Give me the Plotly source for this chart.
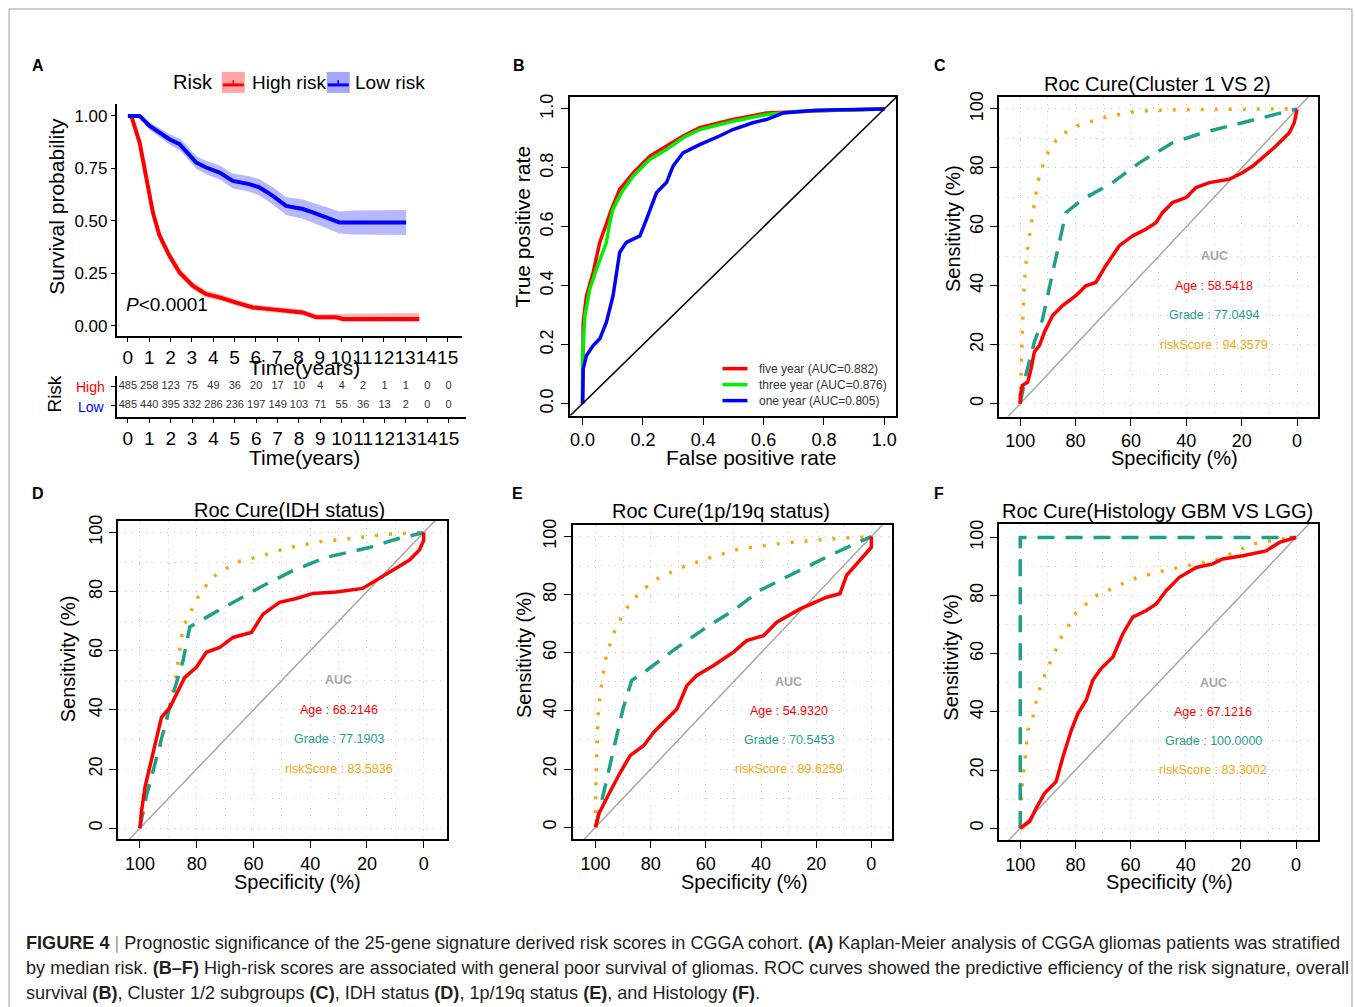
import plotly.graph_objects as go

W, H = 1355, 1007
def px(x): return x / W
def py(y):
    # small vertical compensation measured on the rendered page
    y = (y - 5) / 0.995
    return 1 - y / H

# ---------------- DATA ----------------
# Panel A: Kaplan-Meier
t_high = [0, 0.16, 0.55, 0.86, 1.17, 1.48, 1.95, 2.42, 3.05, 3.67, 4.3, 5.08, 5.86, 6.64, 7.42, 8.2, 8.83, 9.77, 10.08, 13.67]
s_high = [1.0, 1.0, 0.873, 0.70, 0.54, 0.43, 0.333, 0.254, 0.19, 0.15, 0.135, 0.11, 0.087, 0.079, 0.071, 0.063, 0.04, 0.04, 0.032, 0.032]
high_lo = [1.0, 0.995, 0.85, 0.675, 0.515, 0.405, 0.312, 0.235, 0.172, 0.134, 0.12, 0.096, 0.074, 0.066, 0.058, 0.05, 0.029, 0.028, 0.018, 0.016]
high_hi = [1.0, 1.0, 0.895, 0.725, 0.565, 0.455, 0.355, 0.274, 0.208, 0.167, 0.151, 0.125, 0.101, 0.093, 0.085, 0.077, 0.054, 0.055, 0.058, 0.062]

t_low = [0, 0.16, 0.55, 1.02, 1.48, 1.95, 2.42, 2.73, 3.2, 3.67, 4.3, 4.92, 5.7, 6.17, 6.8, 7.42, 8.2, 8.67, 9.3, 9.92, 10.55, 13.05]
s_low = [1.0, 1.0, 1.0, 0.952, 0.92, 0.889, 0.865, 0.833, 0.778, 0.754, 0.73, 0.69, 0.675, 0.659, 0.619, 0.571, 0.556, 0.54, 0.516, 0.492, 0.492, 0.492]
low_lo = [1.0, 0.995, 0.99, 0.934, 0.898, 0.864, 0.838, 0.804, 0.748, 0.722, 0.697, 0.655, 0.638, 0.62, 0.578, 0.528, 0.51, 0.492, 0.466, 0.44, 0.435, 0.432]
low_hi = [1.0, 1.0, 1.0, 0.97, 0.942, 0.914, 0.892, 0.862, 0.808, 0.786, 0.763, 0.725, 0.712, 0.698, 0.66, 0.614, 0.602, 0.588, 0.566, 0.544, 0.549, 0.552]

years = list(range(16))
at_risk_high = [485, 258, 123, 75, 49, 36, 20, 17, 10, 4, 4, 2, 1, 1, 0, 0]
at_risk_low = [485, 440, 395, 332, 286, 236, 197, 149, 103, 71, 55, 36, 13, 2, 0, 0]

# Panel B: time-dependent ROC
b_five_fpr = [0, 0, 0.002, 0.013, 0.035, 0.057, 0.079, 0.096, 0.123, 0.168, 0.223, 0.278, 0.333, 0.388, 0.498, 0.609, 0.719, 0.829, 1.0]
b_five_tpr = [0, 0.197, 0.276, 0.366, 0.445, 0.547, 0.614, 0.66, 0.727, 0.783, 0.84, 0.874, 0.908, 0.936, 0.964, 0.986, 0.992, 0.995, 1.0]
b_three_fpr = [0, 0.0, 0.008, 0.024, 0.046, 0.063, 0.079, 0.09, 0.101, 0.129, 0.168, 0.223, 0.278, 0.333, 0.388, 0.498, 0.609, 0.719, 0.829, 1.0]
b_three_tpr = [0, 0.163, 0.3, 0.389, 0.457, 0.502, 0.547, 0.614, 0.66, 0.716, 0.772, 0.829, 0.862, 0.902, 0.93, 0.958, 0.981, 0.992, 0.995, 1.0]
b_one_fpr = [0, 0.002, 0.013, 0.035, 0.057, 0.079, 0.101, 0.123, 0.145, 0.19, 0.212, 0.245, 0.278, 0.3, 0.333, 0.388, 0.454, 0.498, 0.564, 0.609, 0.664, 0.774, 1.0]
b_one_tpr = [0, 0.118, 0.163, 0.197, 0.22, 0.276, 0.366, 0.513, 0.547, 0.569, 0.626, 0.716, 0.75, 0.806, 0.851, 0.879, 0.908, 0.93, 0.953, 0.964, 0.986, 0.995, 1.0]
b_labels = ["five year (AUC=0.882)", "three year (AUC=0.876)", "one year (AUC=0.805)"]

# Panel C: Cluster 1 VS 2
c_risk_spec = [100, 99.8, 99.2, 98.6, 97.7, 96.1, 93.7, 91.9, 89.5, 85.9, 79.9, 70.2, 58.2, 40.1, 0]
c_risk_sens = [0, 9.6, 25.4, 40, 50.2, 60.3, 75, 80.6, 86.2, 90.8, 94.1, 97, 99.2, 99.8, 100]
c_grade_spec = [100, 98, 94.9, 91.9, 88.3, 83.5, 77.5, 66.6, 57, 45, 34.1, 22, 0]
c_grade_sens = [0, 9.6, 20.9, 28.7, 44.5, 64.8, 69.3, 75, 81.7, 88.5, 91.9, 94.7, 100]
c_age_spec = [100, 100, 99.2, 97.3, 96.1, 94.9, 93.1, 91.3, 89.5, 88.3, 84.7, 79.9, 76.3, 72.7, 69.1, 64.2, 59.4, 54.6, 51, 48.6, 45, 40.1, 36.5, 31.7, 24.5, 19.6, 16, 12.4, 7.6, 2.8, 1, 0]
c_age_sens = [0, 2.8, 6.2, 7.3, 11.8, 17.5, 19.7, 24.2, 27.6, 29.9, 33.3, 36.6, 40, 41.1, 46.8, 53.6, 56.9, 59.2, 61.4, 64.8, 68.2, 69.9, 73.3, 75, 76.1, 78.4, 80.6, 83.5, 87.4, 91.9, 95.3, 99.8]
c_auc = ["58.5418", "77.0494", "94.3579"]

# Panel D: IDH status
d_risk_spec = [100, 98.8, 96.5, 93, 90, 87.1, 84.8, 82.4, 78.9, 74.2, 66, 57.8, 48.4, 36.7, 25, 13.3, 0]
d_risk_sens = [0, 6, 16.1, 27.4, 38.6, 52.4, 68.1, 72.6, 79.4, 85, 90, 91.9, 94.7, 96.9, 98, 99.4, 100]
d_grade_spec = [100, 98.2, 95.3, 91.8, 88.3, 84.8, 82.4, 76.6, 66, 57.8, 46.1, 34.4, 19.2, 9.8, 0]
d_grade_sens = [0, 9.3, 19.5, 31.9, 45.4, 56.6, 68.1, 71.3, 76.9, 81.4, 87.1, 91.6, 94.9, 97.7, 100]
d_age_spec = [100, 99.4, 98.2, 96.5, 94.1, 92.4, 89.4, 87.1, 84.2, 80.1, 76.6, 71.9, 67.2, 60.7, 56.6, 50.8, 44.9, 39, 30.8, 21.5, 15.6, 10.9, 7.4, 5, 1.5, 0, 0]
d_age_sens = [0, 6, 13.9, 20.6, 29.6, 37.5, 40.9, 45.4, 51, 54.4, 59.5, 61.1, 64.5, 66.2, 72.4, 76.4, 77.7, 79.4, 79.9, 81.1, 84.5, 87.3, 89, 90.7, 94.1, 97.3, 100]
d_auc = ["68.2146", "77.1903", "83.5836"]

# Panel E: 1p/19q status
e_risk_spec = [100, 100, 99.6, 99, 97.8, 96, 93, 89.4, 84, 77.9, 69.4, 59.8, 47.7, 32, 13.9, 0]
e_risk_sens = [0, 8, 24.1, 40.1, 49.3, 59.6, 67.7, 74.5, 80.8, 85.3, 89.2, 92.3, 95.8, 97.7, 99.2, 100]
e_grade_spec = [100, 98.4, 96, 93, 89.9, 86.9, 81.5, 71.9, 59.8, 50.1, 40.5, 28.4, 13.9, 0]
e_grade_sens = [0, 6.9, 16.1, 28.7, 41.3, 50.5, 53.9, 60.8, 68.8, 74.5, 81.4, 87.2, 94, 100]
e_age_spec = [100, 98.8, 95.8, 93.4, 91, 87.4, 82.5, 78.9, 74.1, 70.5, 66.9, 63.3, 57.2, 50, 45.2, 39.1, 34.3, 25.8, 16.2, 11.4, 9, 5.4, 1.8, 0, 0]
e_age_sens = [0, 4.6, 10.3, 14.9, 18.9, 24.7, 28.1, 32.7, 37.3, 40.7, 48.7, 52.2, 55.6, 60.2, 64.2, 65.9, 70.5, 75.1, 79.1, 80.3, 86.6, 90.6, 94.7, 96.3, 100]
e_auc = ["54.9320", "70.5453", "89.6259"]

# Panel F: Histology GBM VS LGG
f_risk_spec = [100, 100, 99.3, 98.4, 97.2, 95.4, 93.6, 91.8, 90, 88.2, 85.1, 82.7, 80.9, 77.3, 73.7, 67, 59.2, 50.7, 39.9, 27.8, 15.7, 6, 0]
f_risk_sens = [0, 4, 14.3, 23.4, 33.7, 38.3, 46.3, 50.9, 55.4, 58.9, 65.7, 69.1, 73.1, 76, 79.4, 82.3, 85.7, 88, 90.3, 92.6, 97.7, 99.4, 100]
f_grade_spec = [100, 100, 0]
f_grade_sens = [0, 100, 100]
f_age_spec = [100, 96.6, 94.2, 91.2, 87, 84.5, 81.5, 79.1, 76.1, 73.7, 70.7, 66.4, 62.8, 59.2, 54.3, 50.7, 47.1, 42.3, 36.2, 30.2, 26.6, 19.3, 10.9, 6, 0]
f_age_sens = [0, 2.3, 6.9, 12, 16, 24.6, 33.7, 39.4, 44, 50.9, 54.9, 58.9, 66.9, 72.6, 74.9, 77.1, 81.7, 86.3, 89.7, 90.9, 92.6, 93.7, 95.4, 98.3, 100]
f_auc = ["67.1216", "100.0000", "83.3002"]

# ---------------- STYLE ----------------
REG = "Liberation Sans, Arial, Helvetica, sans-serif"
RED = "#FF0000"
TEAL = "#1FA08A"
ORANGE = "#F5A70F"
GRAYTXT = "#A6A6A6"

fig = go.Figure()
annotations = []
shapes = []

def ann(x, y, text, size=14, color="black", font=REG, xanchor="center", yanchor="middle", angle=0, **kw):
    annotations.append(dict(x=px(x), y=py(y), xref="paper", yref="paper", text=text, showarrow=False,
                            font=dict(family=font, size=size, color=color), xanchor=xanchor,
                            yanchor=yanchor, textangle=angle, **kw))

# ---------------- PANEL A ----------------
def band(t, lo, hi, color, xa, ya):
    fig.add_trace(go.Scatter(x=t + t[::-1], y=hi + lo[::-1], fill="toself", fillcolor=color,
                             line=dict(width=0), mode="lines", hoverinfo="skip", showlegend=False,
                             xaxis=xa, yaxis=ya))

band(t_high, high_lo, high_hi, "rgba(255,0,0,0.28)", "x", "y")
band(t_low, low_lo, low_hi, "rgba(0,0,255,0.28)", "x", "y")
fig.add_trace(go.Scatter(x=t_high, y=s_high, mode="lines", line=dict(color=RED, width=4),
                         showlegend=False, xaxis="x", yaxis="y"))
fig.add_trace(go.Scatter(x=t_low, y=s_low, mode="lines", line=dict(color="#0000FF", width=4),
                         showlegend=False, xaxis="x", yaxis="y"))

fig.add_trace(go.Scatter(x=years, y=[0.73] * 16, text=[str(v) for v in at_risk_high], mode="text",
                         textfont=dict(family=REG, size=11, color="#333333"), showlegend=False,
                         xaxis="x2", yaxis="y2"))
fig.add_trace(go.Scatter(x=years, y=[0.27] * 16, text=[str(v) for v in at_risk_low], mode="text",
                         textfont=dict(family=REG, size=11, color="#333333"), showlegend=False,
                         xaxis="x2", yaxis="y2"))

# ---------------- PANEL B ----------------
for fx, ty, col in [(b_five_fpr, b_five_tpr, RED), (b_three_fpr, b_three_tpr, "#00EE00"),
                    (b_one_fpr, b_one_tpr, "#0000FF")]:
    fig.add_trace(go.Scatter(x=fx, y=ty, mode="lines", line=dict(color=col, width=3.5),
                             showlegend=False, xaxis="x3", yaxis="y3"))
fig.add_trace(go.Scatter(x=[-0.2, 1.2], y=[-0.2, 1.2], mode="lines", line=dict(color="black", width=1.5),
                         showlegend=False, xaxis="x3", yaxis="y3"))

# ---------------- PANELS C-F ----------------
roc_sets = [
    ("x4", "y4", c_risk_spec, c_risk_sens, c_grade_spec, c_grade_sens, c_age_spec, c_age_sens),
    ("x5", "y5", d_risk_spec, d_risk_sens, d_grade_spec, d_grade_sens, d_age_spec, d_age_sens),
    ("x6", "y6", e_risk_spec, e_risk_sens, e_grade_spec, e_grade_sens, e_age_spec, e_age_sens),
    ("x7", "y7", f_risk_spec, f_risk_sens, f_grade_spec, f_grade_sens, f_age_spec, f_age_sens),
]
auc_sets = [c_auc, d_auc, e_auc, f_auc]
for (xa, ya, rs, rv, gs, gv, asp, av), aucs in zip(roc_sets, auc_sets):
    fig.add_trace(go.Scatter(x=[120, -20], y=[-20, 120], mode="lines", line=dict(color="#A8A8A8", width=1.5),
                             showlegend=False, xaxis=xa, yaxis=ya))
    fig.add_trace(go.Scatter(x=rs, y=rv, mode="lines", line=dict(color=ORANGE, width=3.5, dash="3px,11px"),
                             showlegend=False, xaxis=xa, yaxis=ya))
    fig.add_trace(go.Scatter(x=gs, y=gv, mode="lines", line=dict(color=TEAL, width=3.5, dash="17px,11px"),
                             showlegend=False, xaxis=xa, yaxis=ya))
    fig.add_trace(go.Scatter(x=asp, y=av, mode="lines", line=dict(color=RED, width=3.5),
                             showlegend=False, xaxis=xa, yaxis=ya))
    for yy, txt, col in [(50, "<b>AUC</b>", GRAYTXT), (40, "Age : " + aucs[0], RED),
                         (30, "Grade : " + aucs[1], TEAL), (20, "riskScore : " + aucs[2], ORANGE)]:
        annotations.append(dict(x=30, y=yy, xref=xa, yref=ya, text=txt, showarrow=False,
                                font=dict(family=REG, size=12.5, color=col)))

# ---------------- AXES ----------------
def rng(pix_lo, pix_hi, p0, v0, p1, v1):
    unit = (p1 - p0) / (v1 - v0)
    return [v0 + (pix_lo - p0) / unit, v0 + (pix_hi - p0) / unit]

layout = dict(width=W, height=H, margin=dict(l=0, r=0, t=0, b=0, pad=0), paper_bgcolor="white",
              plot_bgcolor="white", showlegend=False)

base_ax = dict(showgrid=False, zeroline=False, showline=True, linecolor="black", ticks="outside",
               tickcolor="black", fixedrange=True)

# A KM
layout["xaxis"] = dict(base_ax, domain=[px(117), px(462)], range=rng(117, 462, 128, 0, 448, 15),
                       tickvals=years, ticktext=[str(v) for v in years], linewidth=2, ticklen=4, tickangle=0,
                       tickfont=dict(family=REG, size=19, color="black"), anchor="y")
layout["yaxis"] = dict(base_ax, domain=[py(335), py(103)], range=rng(335, 103, 325, 0, 115, 1),
                       tickvals=[0, 0.25, 0.5, 0.75, 1.0], ticktext=["0.00", "0.25", "0.50", "0.75", "1.00"],
                       linewidth=2, ticklen=4, tickfont=dict(family=REG, size=17, color="black"), anchor="x")
# risk table
layout["xaxis2"] = dict(base_ax, domain=[px(117), px(466)], range=rng(117, 466, 128, 0, 449, 15),
                        tickvals=years, ticktext=[str(v) for v in years], linewidth=2, ticklen=4, tickangle=0,
                        tickfont=dict(family=REG, size=19, color="black"), anchor="y2")
layout["yaxis2"] = dict(base_ax, domain=[py(416), py(375)], range=[0, 1], tickvals=[0.27, 0.73],
                        ticktext=["", ""], linewidth=2, ticklen=4, anchor="x2")

box_ax = dict(base_ax, mirror=True, linewidth=2, ticklen=7, tickwidth=1.2)
tickf = dict(family=REG, size=18, color="black")

# B
layout["xaxis3"] = dict(box_ax, domain=[px(570), px(897)], range=rng(570, 897, 583, 0, 885, 1), tickangle=0,
                        tickvals=[0, 0.2, 0.4, 0.6, 0.8, 1.0], ticktext=["0.0", "0.2", "0.4", "0.6", "0.8", "1.0"],
                        tickfont=tickf, anchor="y3")
layout["yaxis3"] = dict(box_ax, domain=[py(415), py(96)], range=rng(415, 96, 403, 0, 108, 1),
                        tickvals=[0, 0.2, 0.4, 0.6, 0.8, 1.0], ticktext=["0.0", "0.2", "0.4", "0.6", "0.8", "1.0"],
                        tickangle=-90, tickfont=tickf, anchor="x3")

grid = dict(showgrid=True, gridcolor="#C8C8C8", gridwidth=1, griddash="1px,6px",
            minor=dict(tickmode="array", tickvals=[10, 30, 50, 70, 90], showgrid=True,
                       gridcolor="#C8C8C8", gridwidth=1, griddash="1px,6px", ticks=""))
ticks_pct = dict(tickvals=[0, 20, 40, 60, 80, 100], ticktext=["0", "20", "40", "60", "80", "100"])

roc_geo = [
    ("xaxis4", "yaxis4", "x4", "y4", 1000, 1319, 96, 416, 1021, 1298, 108, 403),
    ("xaxis5", "yaxis5", "x5", "y5", 118, 447, 520, 839, 140, 424, 532, 828),
    ("xaxis6", "yaxis6", "x6", "y6", 573, 893, 524, 839, 596, 872, 536, 827),
    ("xaxis7", "yaxis7", "x7", "y7", 1000, 1319, 523, 840, 1021, 1297, 537, 828),
]
for xk, yk, xa, ya, l, r, t, b, x100, x0, y100, y0 in roc_geo:
    layout[xk] = dict(box_ax, **grid, **ticks_pct, domain=[px(l), px(r)], range=rng(l, r, x100, 100, x0, 0),
                      tickangle=0, tickfont=tickf, anchor=ya)
    layout[yk] = dict(box_ax, **grid, **ticks_pct, domain=[py(b), py(t)], range=rng(b, t, y0, 0, y100, 100),
                      tickangle=-90, tickfont=tickf, anchor=xa)

# ---------------- TEXT ----------------
for (lx, ly, L) in [(38, 65, "A"), (519, 65, "B"), (941, 65, "C"), (38, 493, "D"), (518, 493, "E"), (940, 493, "F")]:
    ann(lx, ly, "<b>%s</b>" % L, size=16)

# Panel A texts
ann(57, 205, "Survival probability", size=21, angle=-90)
ann(305, 367, "Time(years)", size=21)
ann(305, 457, "Time(years)", size=21)
ann(124, 304, "<i>P</i><0.0001", size=19, xanchor="left")
ann(55, 393, "Risk", size=19, angle=-90)
ann(107, 386, "High", size=14, color=RED, xanchor="right")
ann(107, 406, "Low", size=14, color="#0000FF", xanchor="right")
ann(193, 81, "Risk", size=20)
ann(250, 82, "High risk", size=19, xanchor="left")
ann(353, 82, "Low risk", size=19, xanchor="left")
for x0, col, fillc in [(222, RED, "rgba(255,0,0,0.35)"), (327, "#0000FF", "rgba(0,0,255,0.35)")]:
    shapes.append(dict(type="rect", xref="paper", yref="paper", x0=px(x0), x1=px(x0 + 23), y0=py(92), y1=py(71),
                       fillcolor=fillc, line=dict(width=0)))
    shapes.append(dict(type="line", xref="paper", yref="paper", x0=px(x0 + 1), x1=px(x0 + 22), y0=py(84), y1=py(84),
                       line=dict(color=col, width=3)))
    shapes.append(dict(type="line", xref="paper", yref="paper", x0=px(x0 + 11.5), x1=px(x0 + 11.5), y0=py(84), y1=py(79),
                       line=dict(color=col, width=1.5)))

# Panel B texts
ann(523, 226, "True positive rate", size=21, angle=-90)
ann(752, 457, "False positive rate", size=21)
for i, (lab, col) in enumerate(zip(b_labels, [RED, "#00EE00", "#0000FF"])):
    yy = 368 + 16 * i
    shapes.append(dict(type="line", xref="paper", yref="paper", x0=px(723), x1=px(748), y0=py(yy), y1=py(yy),
                       line=dict(color=col, width=3.5)))
    ann(758, yy, lab, size=12, color="#333333", xanchor="left")

titles = [(1158, 83, "Roc Cure(Cluster 1 VS 2)"), (290, 509, "Roc Cure(IDH status)"),
          (722, 510, "Roc Cure(1p/19q status)"), (1158, 510, "Roc Cure(Histology GBM VS LGG)")]
for tx, ty, tt in titles:
    ann(tx, ty, tt, size=20)
for sx, sy, xx, xy in [(953, 228, 1175, 457), (68, 658, 298, 882), (525, 654, 745, 882), (952, 657, 1170, 882)]:
    ann(sx, sy, "Sensitivity (%)", size=20, angle=-90)
    ann(xx, xy, "Specificity (%)", size=20)

# caption
CAP = "#231F20"
sep = "<span style='color:#9a9a9a'> | </span>"
cap1 = ("<b>FIGURE 4</b>" + sep + "Prognostic significance of the 25-gene signature derived risk scores in CGGA cohort. "
        "<b>(A)</b> Kaplan-Meier analysis of CGGA gliomas patients was stratified")
cap2 = ("by median risk. <b>(B–F)</b> High-risk scores are associated with general poor survival of gliomas. "
        "ROC curves showed the predictive efficiency of the risk signature, overall")
cap3 = ("survival <b>(B)</b>, Cluster 1/2 subgroups <b>(C)</b>, IDH status <b>(D)</b>, 1p/19q status <b>(E)</b>, "
        "and Histology <b>(F)</b>.")
for yy, c in [(943, cap1), (968, cap2), (993, cap3)]:
    ann(24, yy, c, size=18.1, color=CAP, xanchor="left")

# border
shapes.append(dict(type="rect", xref="paper", yref="paper", x0=px(9), x1=px(1353), y0=py(1015), y1=py(8),
                   line=dict(color="#A0A0A0", width=1), fillcolor="rgba(0,0,0,0)"))

layout["annotations"] = annotations
layout["shapes"] = shapes
fig.update_layout(**layout)
fig.write_html("out.html")
